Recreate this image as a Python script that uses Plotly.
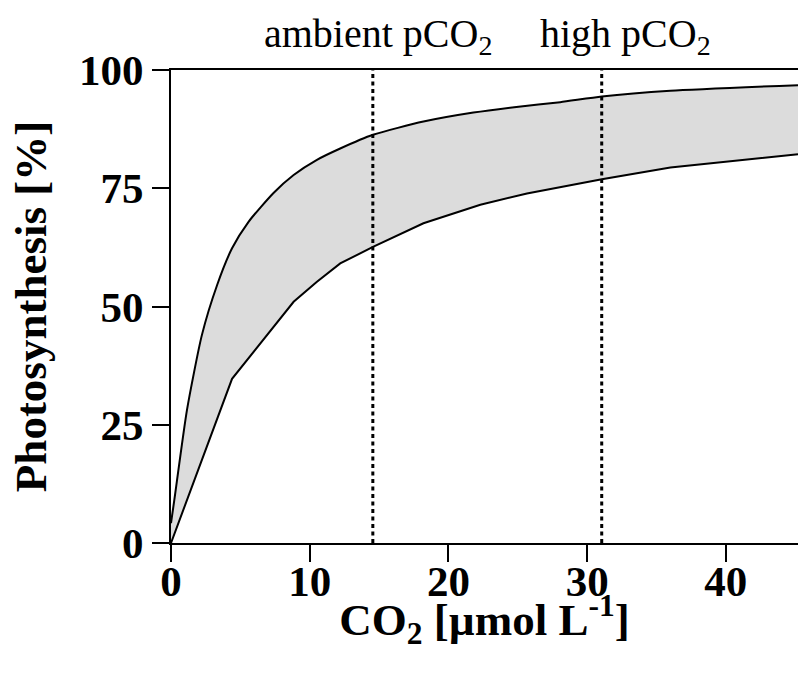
import plotly.graph_objects as go

# CO2 concentration [umol/L] and photosynthesis [%] envelope
upper_x = [0.0, 0.24, 1.15, 2.23, 3.32, 4.40, 5.59, 7.39, 8.84, 10.52, 12.2, 14.56, 18.2, 21.8, 24.9, 28.06, 31.06, 36.0, 45.2]
upper_y = [4.2, 9.1, 28.1, 44.0, 54.5, 62.3, 67.9, 74.0, 77.8, 81.0, 83.4, 86.3, 89.1, 91.0, 92.2, 93.2, 94.4, 95.6, 96.8]

lower_x = [0.0, 4.40, 8.84, 10.5, 12.2, 14.56, 18.2, 22.3, 25.66, 28.06, 31.06, 36.0, 45.2]
lower_y = [0.0, 34.7, 51.0, 55.2, 59.1, 62.6, 67.6, 71.5, 73.9, 75.3, 76.9, 79.4, 82.2]

markers_x = [14.55, 31.05]
marker_labels = ["ambient pCO<sub>2</sub>", "high pCO<sub>2</sub>"]
label_x = [14.94, 32.74]

x_ticks = [0, 10, 20, 30, 40]
y_ticks = [0, 25, 50, 75, 100]

FONT = "Liberation Serif"
TICKFONT = dict(family=FONT, size=43, color="black", weight="bold")

fig = go.Figure()
fig.add_trace(go.Scatter(x=lower_x, y=lower_y, mode="lines",
                         line=dict(color="black", width=2), showlegend=False,
                         hoverinfo="skip"))
fig.add_trace(go.Scatter(x=upper_x, y=upper_y, mode="lines",
                         line=dict(color="black", width=2, shape="spline", smoothing=0.6),
                         fill="tonexty", fillcolor="#dcdcdc", showlegend=False,
                         hoverinfo="skip"))
# invisible trace on the label axis
fig.add_trace(go.Scatter(x=[0, 45.2], y=[0, 0], xaxis="x2", mode="lines",
                         line=dict(width=0), showlegend=False, hoverinfo="skip"))

for xv in markers_x:
    fig.add_shape(type="line", xref="x", yref="y", x0=xv, x1=xv, y0=0, y1=100,
                  line=dict(color="black", width=3, dash="4px,3.5px"))

for lx, txt in zip(label_x, marker_labels):
    fig.add_annotation(x=lx, xref="x", y=1.0, yref="paper", yanchor="bottom",
                       yshift=7, text=txt, showarrow=False,
                       font=dict(family=FONT, size=40, color="black"))

fig.update_layout(
    width=798, height=679,
    margin=dict(l=171, r=0, t=70, b=136),
    paper_bgcolor="white", plot_bgcolor="white",
    font=dict(family=FONT, color="black"),
    xaxis=dict(range=[0, 45.2], tickvals=x_ticks, ticks="outside", ticklen=17,
               tickwidth=2, tickcolor="black", showline=True, linewidth=2,
               linecolor="black", mirror=True, showgrid=False, zeroline=False,
               showticklabels=False,
               title=dict(text="<b>CO<sub>2</sub> [µmol L<sup>-1</sup>]</b>",
                          font=dict(family=FONT, size=45, color="black"), standoff=42)),
    xaxis2=dict(range=[0, 45.2], tickvals=x_ticks, ticks="", overlaying="x",
                anchor="y", side="bottom", showline=False, showgrid=False,
                zeroline=False, tickfont=TICKFONT, ticklabelstandoff=9),
    yaxis=dict(range=[0, 100], tickvals=y_ticks, ticks="outside", ticklen=17,
               tickwidth=2, tickcolor="black", showline=True, linewidth=2,
               linecolor="black", showgrid=False, zeroline=False,
               tickfont=TICKFONT,
               title=dict(text="<b>Photosynthesis [%]</b>",
                          font=dict(family=FONT, size=45, color="black"), standoff=18)),
)

fig.write_html("out.html")
